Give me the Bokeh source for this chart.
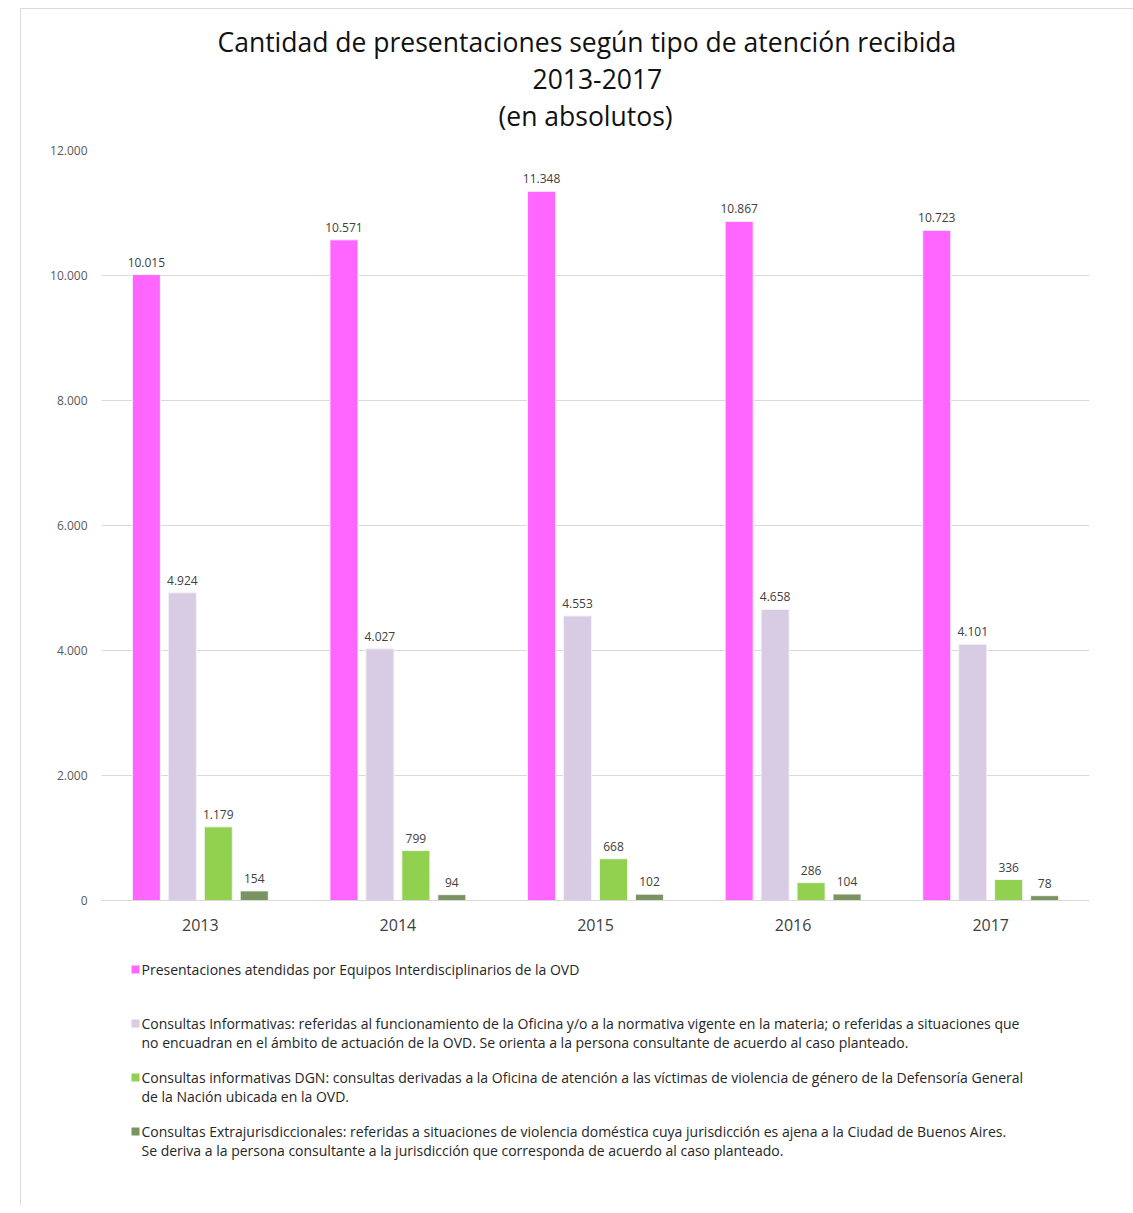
from bokeh.plotting import figure
from bokeh.models import ColumnDataSource, FactorRange, Title, Range1d, FixedTicker, CustomJSTickFormatter
from bokeh.layouts import column
from bokeh.transform import dodge
from bokeh.core.properties import value
from bokeh.embed import file_html
from bokeh.resources import INLINE

years = ["2013", "2014", "2015", "2016", "2017"]
equipos = [10015, 10571, 11348, 10867, 10723]
informativas = [4924, 4027, 4553, 4658, 4101]
dgn = [1179, 799, 668, 286, 336]
extra = [154, 94, 102, 104, 78]
y_ticks = [0, 2000, 4000, 6000, 8000, 10000, 12000]

series = [equipos, informativas, dgn, extra]
colors = ["#FF66FF", "#D8CCE4", "#92D050", "#7A9461"]
legend_lines = [
    ["Presentaciones atendidas por Equipos Interdisciplinarios de la OVD"],
    ["Consultas Informativas: referidas al funcionamiento de la Oficina y/o a la normativa vigente en la materia; o referidas a situaciones que",
     "no encuadran en el ámbito de actuación de la OVD. Se orienta a la persona consultante de acuerdo al caso planteado."],
    ["Consultas informativas DGN: consultas derivadas a la Oficina de atención a las víctimas de violencia de género de la Defensoría General",
     "de la Nación ubicada en la OVD."],
    ["Consultas Extrajurisdiccionales: referidas a situaciones de violencia doméstica cuya jurisdicción es ajena a la Ciudad de Buenos Aires.",
     "Se deriva a la persona consultante a la jurisdicción que corresponda de acuerdo al caso planteado."],
]
titles = ["Cantidad de presentaciones según tipo de atención recibida", "2013-2017", "(en absolutos)"]

def fmt(v):
    return f"{v:,}".replace(",", ".")

FONT = "Open Sans"
W = 1113
BL, BR = 80, 45
CH = 941

p = figure(x_range=FactorRange(*years), y_range=Range1d(0, 12000),
           width=W, height=CH, output_backend="svg", toolbar_location=None,
           min_border_left=BL, min_border_right=BR, min_border_top=141, min_border_bottom=50)
p.outline_line_color = None
p.background_fill_color = "white"
p.border_fill_color = "white"

offsets = [-0.273, -0.091, 0.091, 0.273]
for vals, col, off in zip(series, colors, offsets):
    src = ColumnDataSource(dict(x=years, top=vals, lab=[fmt(v) for v in vals]))
    p.vbar(x=dodge("x", off, range=p.x_range), top="top", width=0.142, source=src,
           fill_color=col, line_color="#F4F4F4", line_width=1)
    p.text(x=dodge("x", off, range=p.x_range), y="top", text="lab", source=src,
           text_align="center", text_baseline="bottom", y_offset=-8,
           text_font=value(FONT), text_font_size="12px", text_color="#404040")

p.yaxis.ticker = FixedTicker(ticks=y_ticks)
p.yaxis.formatter = CustomJSTickFormatter(code="return tick.toLocaleString('de-DE');")
p.yaxis.axis_line_color = None
p.yaxis.major_tick_line_color = None
p.yaxis.minor_tick_line_color = None
p.yaxis.major_label_text_font = FONT
p.yaxis.major_label_text_font_size = "12px"
p.yaxis.major_label_text_color = "#595959"
p.yaxis.major_label_standoff = 8

p.xaxis.axis_line_color = "#D9D9D9"
p.xaxis.major_tick_line_color = None
p.xaxis.minor_tick_line_color = None
p.xaxis.major_label_text_font = FONT
p.xaxis.major_label_text_font_size = "16px"
p.xaxis.major_label_text_color = "#404040"
p.xaxis.major_label_standoff = 12

p.xgrid.grid_line_color = None
p.ygrid.grid_line_color = "#D9D9D9"

# spacer closest to the plot area, then the three title lines
p.add_layout(Title(text=" ", text_font=FONT, text_font_size="8px", standoff=0), "above")
title_offsets = [116, 431, 397]
for t, off in zip(reversed(titles), reversed(title_offsets)):
    p.add_layout(Title(text=t, align="left", offset=off, text_font=FONT, text_font_size="26.5px",
                       text_font_style="normal", text_color="#111111", standoff=7), "above")

# legend figure, coordinates in page pixels (frame spans page x 100..1088)
LY0 = 8 + CH
LH = 255
lg = figure(width=W, height=LH, x_range=Range1d(100, 1088), y_range=Range1d(LY0 + LH, LY0),
            output_backend="svg", toolbar_location=None,
            min_border_left=BL, min_border_right=BR, min_border_top=0, min_border_bottom=0)
lg.axis.visible = False
lg.grid.visible = False
lg.outline_line_color = None
lg.border_fill_color = "white"

item_y = [968, 1022, 1076, 1130]
line_gap = 19
xs, ys, txt = [], [], []
for lines, y0 in zip(legend_lines, item_y):
    for i, ln in enumerate(lines):
        xs.append(140)
        ys.append(y0 + i * line_gap)
        txt.append(ln)
lg.rect(x=[134] * 4, y=item_y, width=8, height=8, fill_color=colors, line_color=None)
lg.text(x=xs, y=ys, text=txt, text_baseline="middle", text_align="left",
        text_font=value(FONT), text_font_size="14px", text_color="#262626")

layout = column(p, lg, spacing=0)
layout.margin = (8, 0, 0, 20)
layout.styles = {"border-left": "1px solid #D9D9D9", "border-top": "1px solid #D9D9D9"}
open("out.html", "w").write(file_html(layout, INLINE))
